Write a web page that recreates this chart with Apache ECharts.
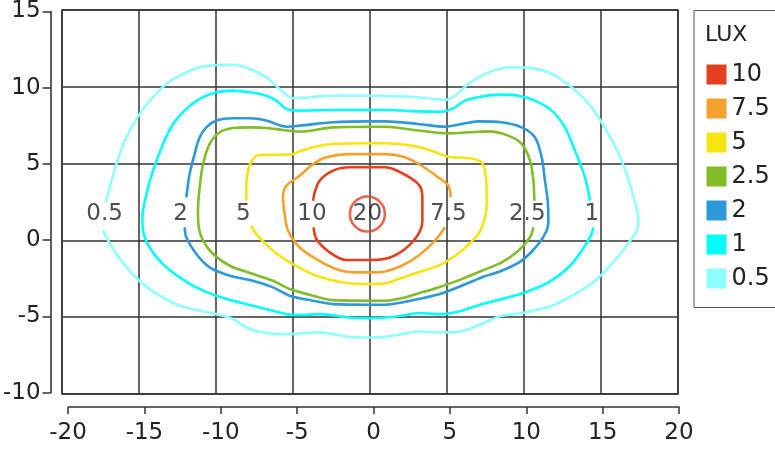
<!DOCTYPE html>
<html><head><meta charset="utf-8">
<script src="https://cdn.jsdelivr.net/npm/echarts@6/dist/echarts.min.js"></script>
<style>html,body{margin:0;padding:0;background:#fff}#c{width:775px;height:450px}</style>
</head><body><div id="c"></div><script>
const FONT = 'DejaVu Sans';
const levels = ['10', '7.5', '5', '2.5', '2', '1', '0.5'];
const levelColors = ['#E5401E', '#F4A12E', '#F7E511', '#82BC28', '#2D98DA', '#00FFFF', '#8EFFFF'];

const contour10 = [[-3.7,2.58],[-3.59,3.13],[-3.27,3.89],[-2.4,4.54],[-1.32,4.76],[0,4.76],[0.97,4.76],[1.84,4.5],[3.14,3.67],[3.4,2.8],[3.4,1.28],[3.14,0.41],[2.27,-0.56],[1.19,-1.15],[0,-1.28],[-1.54,-1.28],[-2.62,-0.78],[-3.48,0.09],[-3.66,0.85]];
const contour7_5 = [[4.87,0.85],[4.22,-0.02],[3.14,-1.0],[2.06,-1.65],[0.97,-2.02],[0,-2.08],[-1.1,-2.08],[-2.19,-1.87],[-3.48,-1.22],[-4.57,-0.46],[-5.32,0.63],[-5.54,1.72],[-5.65,2.8],[-5.43,3.56],[-4.57,4.21],[-3.7,4.97],[-2.84,5.41],[-1.32,5.62],[0,5.62],[0.97,5.62],[2.27,5.41],[3.35,4.86],[4.44,4.1],[5.09,3.56],[5.24,2.8]];
const contour5 = [[-8.03,2.58],[-8.03,3.45],[-7.92,4.54],[-7.6,5.3],[-7.16,5.56],[-5.87,5.58],[-5.0,5.62],[-4.57,5.8],[-3.48,6.12],[-2.4,6.28],[0,6.32],[0.97,6.32],[2.71,6.17],[4.0,5.84],[5.09,5.45],[6.39,5.36],[7.25,5.08],[7.53,4.1],[7.58,2.58],[7.47,1.5],[7.03,0.41],[5.95,-0.67],[4.65,-1.54],[3.14,-2.08],[1.84,-2.52],[0.97,-2.8],[0,-2.84],[-1.75,-2.74],[-3.48,-2.3],[-5.0,-1.54],[-6.3,-0.67],[-7.38,0.41],[-7.71,0.96]];
const contour2_5 = [[10.61,0.85],[10.39,0.2],[9.63,-0.67],[8.55,-1.43],[7.25,-1.98],[5.95,-2.52],[4.44,-3.06],[3.14,-3.45],[2.06,-3.76],[0.97,-3.93],[0,-3.93],[-2.4,-3.89],[-3.7,-3.6],[-5.22,-3.17],[-6.3,-2.63],[-7.6,-2.19],[-9.11,-1.65],[-10.19,-0.89],[-10.84,-0.02],[-11.12,0.85],[-11.17,1.93],[-11.06,3.45],[-10.84,4.97],[-10.41,6.28],[-9.76,7.04],[-8.9,7.32],[-7.81,7.36],[-6.73,7.32],[-5.65,7.19],[-4.57,7.08],[-2.4,7.36],[0,7.4],[0.97,7.4],[3.14,7.15],[5.09,6.97],[6.39,7.04],[7.68,7.1],[8.98,6.82],[9.85,6.28],[10.39,5.19],[10.61,3.89],[10.67,2.58]];
const contour2 = [[-11.93,2.8],[-11.71,4.32],[-11.39,5.62],[-11.06,6.71],[-10.63,7.36],[-9.98,7.8],[-8.9,7.95],[-7.81,7.95],[-6.73,7.8],[-5.43,7.4],[-4.57,7.47],[-2.4,7.69],[0,7.75],[0.97,7.75],[3.14,7.58],[4.87,7.4],[5.95,7.58],[7.03,7.75],[8.55,7.69],[9.85,7.36],[10.71,6.71],[11.15,5.41],[11.36,3.89],[11.54,2.58],[11.58,1.28],[11.47,0.63],[10.93,-0.24],[9.85,-1.32],[8.55,-1.98],[7.25,-2.41],[5.95,-2.95],[4.65,-3.45],[3.14,-3.82],[2.06,-4.04],[0.97,-4.19],[0,-4.19],[-2.4,-4.15],[-3.7,-3.93],[-5.22,-3.6],[-6.3,-3.06],[-7.6,-2.63],[-9.11,-2.3],[-10.41,-1.76],[-11.28,-0.89],[-11.93,0.2],[-12.03,0.85]];
const contour1 = [[14.5,0.85],[14.39,0.41],[13.75,-0.67],[12.88,-1.76],[11.58,-2.74],[10.06,-3.39],[8.55,-3.82],[7.25,-4.15],[5.95,-4.58],[4.65,-4.8],[3.14,-4.73],[2.06,-4.91],[0.97,-5.02],[0,-5.06],[-1.32,-5.02],[-3.27,-4.8],[-4.57,-4.86],[-5.43,-4.8],[-6.73,-4.47],[-8.46,-4.04],[-9.98,-3.6],[-11.28,-3.06],[-12.36,-2.41],[-13.44,-1.54],[-14.31,-0.46],[-14.74,0.63],[-14.78,1.5],[-14.52,3.02],[-14.09,4.54],[-13.44,6.28],[-12.79,7.58],[-11.93,8.56],[-11.06,9.21],[-9.98,9.64],[-8.9,9.75],[-7.81,9.64],[-6.73,9.42],[-6.08,9.1],[-5.43,8.56],[-4.57,8.45],[-2.4,8.49],[0,8.49],[0.97,8.49],[3.14,8.4],[4.65,8.38],[5.52,8.66],[6.17,9.1],[7.03,9.32],[8.33,9.49],[9.63,9.42],[10.71,9.1],[11.8,8.45],[12.66,7.36],[13.31,5.84],[13.96,4.1],[14.29,2.58]];
const contour0_5 = [[-17.16,2.48],[-16.9,3.45],[-16.47,4.97],[-15.82,6.71],[-14.96,8.23],[-14.09,9.32],[-13.23,10.18],[-12.14,10.84],[-11.06,11.27],[-9.98,11.42],[-8.9,11.44],[-7.81,11.16],[-6.73,10.62],[-5.87,9.86],[-5.0,9.25],[-3.92,9.32],[-2.4,9.42],[0,9.42],[3.14,9.32],[4.87,9.14],[5.52,9.42],[6.39,10.18],[7.47,10.84],[8.98,11.27],[10.28,11.23],[11.58,10.94],[13.1,9.97],[14.39,8.66],[15.48,6.93],[16.34,5.19],[17.0,3.24],[17.43,1.28],[17.32,0.63],[16.56,-0.46],[15.69,-1.54],[14.61,-2.63],[13.31,-3.5],[11.8,-4.26],[10.06,-4.69],[8.55,-4.91],[7.47,-5.34],[6.39,-5.78],[5.3,-5.99],[4.22,-5.99],[3.14,-5.93],[2.06,-6.1],[0.97,-6.28],[0,-6.32],[-1.32,-6.28],[-2.4,-6.1],[-3.27,-5.99],[-4.57,-6.06],[-5.65,-6.1],[-6.95,-5.99],[-8.03,-5.67],[-8.9,-5.12],[-9.98,-4.8],[-11.06,-4.58],[-12.36,-4.26],[-13.66,-3.6],[-14.74,-2.84],[-15.6,-1.98],[-16.47,-0.89],[-17.12,0.2],[-17.34,0.63]];
const contours = [contour10, contour7_5, contour5, contour2_5, contour2, contour1, contour0_5];

const labelNames = ['0.5', '2', '5', '10', '7.5', '2.5', '1'];
const labelX = [-17.23, -12.3, -8.23, -3.77, 5.09, 10.21, 14.4];
const labelY = [1.72, 1.72, 1.72, 1.72, 1.72, 1.72, 1.72];
const peakName = '20';
const peakX = -0.17;
const peakY = 1.72;

const xMin = -20, xMax = 20, xStep = 5;
const yMin = -10, yMax = 15, yStep = 5;

const chart = echarts.init(document.getElementById('c'), null, {renderer: 'canvas'});
const series = levels.map((name, i) => ({
  name: name, type: 'line', xAxisIndex: 0, yAxisIndex: 0,
  data: contours[i], showSymbol: false, smooth: 0.3,
  color: levelColors[i],
  itemStyle: {color: levelColors[i]},
  lineStyle: {color: levelColors[i], width: 2.6},
  z: 3
}));
series.push({
  name: 'peak', type: 'scatter', xAxisIndex: 0, yAxisIndex: 0,
  data: [{name: peakName, value: [peakX, peakY]}],
  symbol: 'circle', symbolSize: 35,
  itemStyle: {color: 'rgba(0,0,0,0)', borderColor: levelColors[0], borderWidth: 2.6},
  label: {show: true, position: 'inside', formatter: '{b}', fontSize: 23, color: '#222', fontFamily: FONT},
  z: 4
});
series.push({
  name: 'labels', type: 'scatter', xAxisIndex: 0, yAxisIndex: 0,
  data: labelNames.map((n, i) => ({name: n, value: [labelX[i], labelY[i]]})),
  symbolSize: 1, itemStyle: {color: 'rgba(0,0,0,0)'},
  label: {show: true, position: 'inside', formatter: '{b}', fontSize: 23, color: '#222', fontFamily: FONT},
  z: 4
});

const axisTxt = {fontSize: 23, color: '#222', fontFamily: FONT};
chart.setOption({
  animation: false,
  backgroundColor: '#fff',
  grid: [
    {left: 62, right: 97, top: 10, bottom: 56, show: true, borderColor: '#333', borderWidth: 1.5, backgroundColor: 'rgba(0,0,0,0)'},
    {left: 66, right: 96, top: 10, bottom: 57.3}
  ],
  xAxis: [
    {type: 'value', gridIndex: 0, min: xMin, max: xMax, interval: xStep,
     axisLine: {show: false}, axisTick: {show: false}, axisLabel: {show: false},
     splitLine: {show: true, lineStyle: {color: '#333', width: 1.5}}},
    {type: 'value', gridIndex: 1, min: xMin, max: xMax, interval: xStep, position: 'bottom', offset: 14.3,
     axisLine: {show: true, onZero: false, lineStyle: {color: '#333', width: 1.5}},
     axisTick: {show: true, length: 7, lineStyle: {color: '#333', width: 1.5}},
     axisLabel: Object.assign({margin: 15}, axisTxt),
     splitLine: {show: false}}
  ],
  yAxis: [
    {type: 'value', gridIndex: 0, min: yMin, max: yMax, interval: yStep,
     axisLine: {show: false}, axisTick: {show: false}, axisLabel: {show: false},
     splitLine: {show: true, lineStyle: {color: '#333', width: 1.5}}},
    {type: 'value', gridIndex: 1, min: yMin, max: yMax, interval: yStep, position: 'left', offset: 17.5,
     axisLine: {show: true, onZero: false, lineStyle: {color: '#333', width: 1.6}},
     axisTick: {show: true, length: 8, lineStyle: {color: '#333', width: 1.5}},
     axisLabel: Object.assign({margin: 10}, axisTxt),
     splitLine: {show: false}}
  ],
  legend: {
    orient: 'vertical', left: 694, top: 10.5, data: levels, icon: 'rect',
    itemWidth: 20, itemHeight: 20, itemGap: 10,
    padding: [52, 60, 17, 12.5], borderColor: '#555', borderWidth: 1,
    textStyle: {fontSize: 24, color: '#222', fontFamily: FONT},
    selectedMode: false
  },
  graphic: [{type: 'text', left: 705, top: 24, style: {text: 'LUX', fontSize: 22, fill: '#222', fontFamily: FONT}}],
  series: series
});
</script></body></html>
